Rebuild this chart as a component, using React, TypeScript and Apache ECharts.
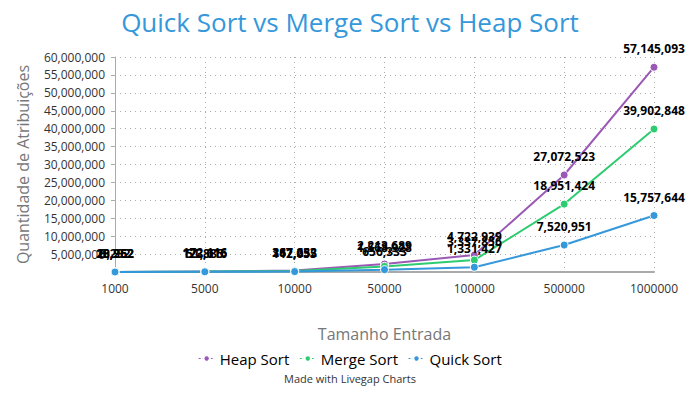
import React, { useEffect, useRef } from "react";
import * as echarts from "echarts";

const categories = ["1000", "5000", "10000", "50000", "100000", "500000", "1000000"];
const heapSort = [28262, 172116, 387653, 2213689, 4722939, 27072523, 57145093];
const mergeSort = [19952, 123616, 267232, 1568928, 3337856, 18951424, 39902848];
const quickSort = [8292, 51885, 112055, 656333, 1331427, 7520951, 15757644];

const fmt = (v: number) => v.toLocaleString("en-US");

export default function App() {
  const ref = useRef<HTMLDivElement>(null);
  useEffect(() => {
    const chart = echarts.init(ref.current!, null, { renderer: "svg" });
    const font = "'Open Sans', sans-serif";
    const mk = (name: string, data: number[], color: string) => ({
      name,
      type: "line",
      data,
      color,
      symbol: "circle",
      symbolSize: 8,
      lineStyle: { width: 2, color },
      itemStyle: { color, borderColor: "#fff", borderWidth: 1 },
      label: {
        show: true,
        position: "top",
        distance: 8,
        fontFamily: font,
        fontWeight: "bold",
        fontSize: 12,
        color: "#000",
        formatter: (p: any) => fmt(p.value),
      },
    });
    chart.setOption({
      animation: false,
      textStyle: { fontFamily: font },
      title: {
        text: "Quick Sort vs Merge Sort vs Heap Sort",
        left: "center",
        top: 4,
        textStyle: { fontFamily: font, fontSize: 26, fontWeight: "normal", color: "#3498db" },
      },
      grid: { left: 115, right: 46, top: 57, bottom: 128 },
      legend: {
        bottom: 29,
        left: "center",
        itemWidth: 16,
        itemHeight: 8,
        itemGap: 10,
        textStyle: { fontFamily: font, fontSize: 15, color: "#000" },
        lineStyle: { type: [2, 2], width: 1 },
        data: ["Heap Sort", "Merge Sort", "Quick Sort"],
      },
      graphic: [
        {
          type: "text",
          left: "center",
          top: 373,
          style: { text: "Made with Livegap Charts", font: `11px ${font}`, fill: "#333" },
        },
      ],
      xAxis: {
        type: "category",
        data: categories,
        boundaryGap: false,
        name: "Tamanho Entrada",
        nameLocation: "middle",
        nameGap: 54,
        nameTextStyle: { fontFamily: font, fontSize: 16, color: "#777" },
        axisLine: { lineStyle: { color: "#aaa", width: 2 } },
        axisTick: { show: false },
        axisLabel: { fontFamily: font, fontSize: 12, color: "#333", margin: 10 },
        splitLine: { show: true, lineStyle: { type: [1, 4], color: "#aaa" } },
      },
      yAxis: {
        type: "value",
        min: 0,
        max: 60000000,
        interval: 5000000,
        name: "Quantidade de Atribuições",
        nameLocation: "middle",
        nameGap: 84,
        nameTextStyle: { fontFamily: font, fontSize: 16, color: "#777" },
        axisLine: { show: true, lineStyle: { color: "#aaa" } },
        axisTick: { show: true, length: 4, lineStyle: { color: "#aaa" } },
        axisLabel: {
          fontFamily: font,
          fontSize: 12,
          color: "#333",
          margin: 10,
          showMinLabel: false,
          formatter: (v: number) => (v === 0 ? "" : fmt(v)),
        },
        splitLine: { show: true, lineStyle: { type: [1, 4], color: "#aaa" } },
      },
      series: [
        mk("Heap Sort", heapSort, "#9b59b6"),
        mk("Merge Sort", mergeSort, "#2ecc71"),
        mk("Quick Sort", quickSort, "#3498db"),
      ],
    });
    return () => chart.dispose();
  }, []);
  return <div ref={ref} style={{ width: 700, height: 400, position: "absolute", left: 0, top: 0 }} />;
}
